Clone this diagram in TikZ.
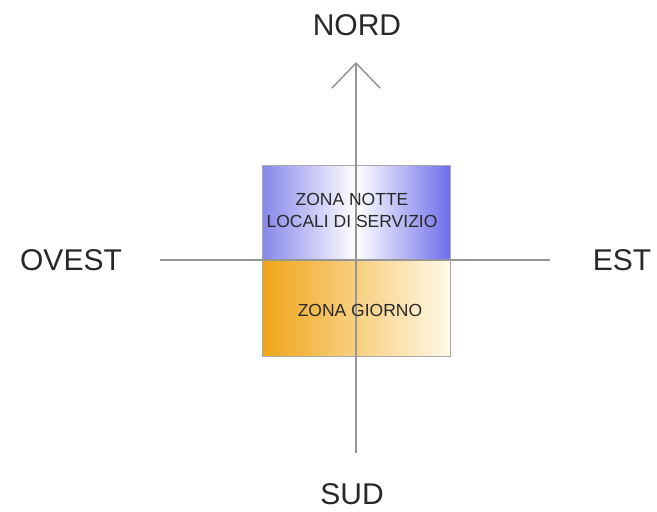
\documentclass[tikz,border=0pt]{standalone}
\usepackage{fontspec}
\setmainfont{Liberation Sans}
\usetikzlibrary{arrows.meta}
\definecolor{axisgray}{RGB}{150,150,150}
\definecolor{boxblueL}{RGB}{135,135,235}
\definecolor{boxblueR}{RGB}{110,110,235}
\definecolor{boxorange}{RGB}{240,165,25}
\definecolor{boxcream}{RGB}{255,249,232}
\definecolor{txt}{RGB}{40,40,40}
\tikzset{
  axisline/.style={draw=axisgray, line width=1.5pt},
  dirlabel/.style={text=txt, font=\fontsize{30}{34}\selectfont, inner sep=0pt},
  zonelabel/.style={text=txt, font=\fontsize{17.5}{22}\selectfont, inner sep=0pt, align=center},
  zonebox/.style={draw=axisgray!80, line width=1pt}
}
\begin{document}
\begin{tikzpicture}[x=1pt,y=-1pt]
\useasboundingbox (0,0) rectangle (657,512);
% zones
\shade[left color=boxblueL, right color=boxblueR, middle color=white]
  (262,165) rectangle (450,260);
\shade[left color=boxorange, right color=boxcream]
  (262,260) rectangle (450,356);
\draw[zonebox] (262,165) rectangle (450,356);
% axes
\coordinate (n) at (356,62);
\coordinate (s) at (356,453);
\coordinate (w) at (160,260);
\coordinate (e) at (550,260);
\draw[axisline] (w) -- (e);
\draw[axisline, -{Straight Barb[length=25pt,width=48pt,line width=1.5pt]}] (s) -- (n);
% labels
\node[dirlabel] (nord) at (357,25) {NORD};
\node[dirlabel] (sud) at (352,494) {SUD};
\node[dirlabel] (ovest) at (71,260) {OVEST};
\node[dirlabel] (est) at (622,260) {EST};
\node[zonelabel] (notte) at (352,210) {ZONA NOTTE\\LOCALI DI SERVIZIO};
\node[zonelabel] (giorno) at (360,310) {ZONA GIORNO};
\end{tikzpicture}
\end{document}
